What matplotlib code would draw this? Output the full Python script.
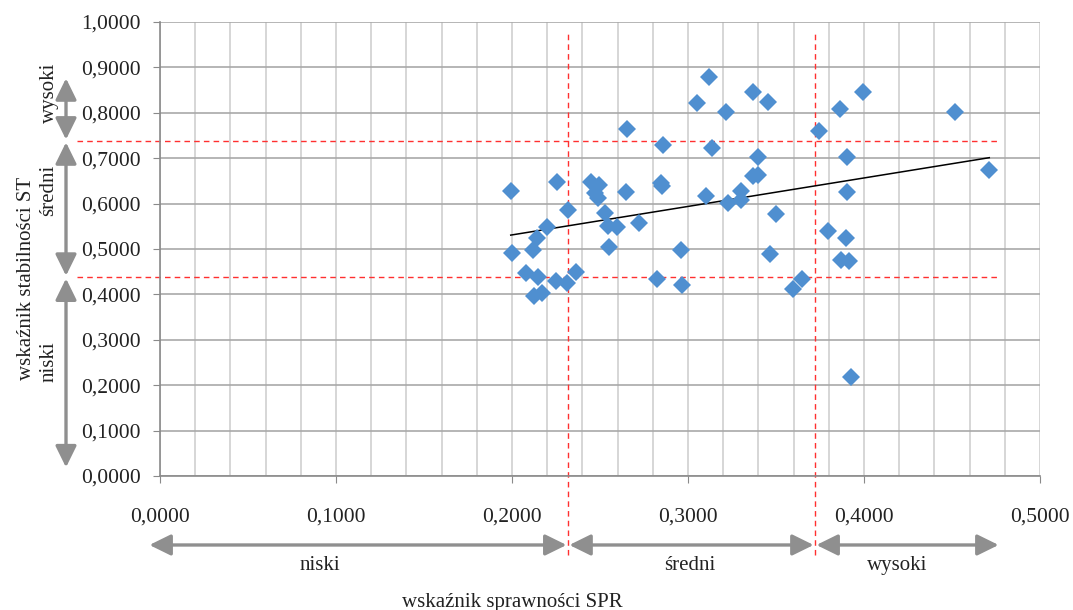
import matplotlib.pyplot as plt
import numpy as np
from matplotlib.ticker import MultipleLocator, FuncFormatter

plt.rcParams['font.family'] = ['Liberation Serif', 'DejaVu Serif']

# wskaźnik sprawności SPR (x) i wskaźnik stabilności ST (y)
spr = [0.1993, 0.1998, 0.2078, 0.2121, 0.2140, 0.2149, 0.2127, 0.2169, 0.2197, 0.2250,
       0.2257, 0.2311, 0.2320, 0.2362, 0.2447, 0.2496, 0.2472, 0.2490, 0.2528, 0.2547,
       0.2595, 0.2553, 0.2648, 0.2652, 0.2723, 0.2845, 0.2851, 0.2856, 0.2826, 0.2959,
       0.2964, 0.3049, 0.3121, 0.3102, 0.3135, 0.3216, 0.3226, 0.3304, 0.3299, 0.3368,
       0.3369, 0.3400, 0.3400, 0.3453, 0.3466, 0.3500, 0.3598, 0.3649, 0.3746, 0.3794,
       0.3864, 0.3869, 0.3896, 0.3902, 0.3905, 0.3915, 0.3926, 0.3996, 0.4517, 0.4712]
st = [0.6284, 0.4919, 0.4478, 0.4978, 0.5236, 0.4390, 0.3965, 0.4024, 0.5478, 0.4302,
      0.6476, 0.4244, 0.5859, 0.4500, 0.6482, 0.6403, 0.6227, 0.6117, 0.5786, 0.5507,
      0.5478, 0.5037, 0.6256, 0.7643, 0.5579, 0.6460, 0.6388, 0.7291, 0.4346, 0.4978,
      0.4207, 0.8209, 0.8782, 0.6167, 0.7218, 0.8011, 0.6007, 0.6271, 0.6090, 0.8465,
      0.6608, 0.6630, 0.7033, 0.8231, 0.4883, 0.5771, 0.4119, 0.4339, 0.7606, 0.5403,
      0.8077, 0.4758, 0.5236, 0.6262, 0.7020, 0.4736, 0.2174, 0.8465, 0.8018, 0.6740]

# granice przedziałów
spr_bounds = [0.2318, 0.3722]
st_bounds = [0.438, 0.738]
band_labels = ['niski', 'średni', 'wysoki']

blue = '#4f8fd0'
arrow_col = '#8f8f8f'
txt = '#222222'

fig = plt.figure(figsize=(10.73, 6.10), dpi=100)
ax = fig.add_axes([0.1491, 0.2197, 0.8201, 0.7442])

ax.set_xlim(0, 0.5)
ax.set_ylim(0, 1.0)
ax.xaxis.set_major_locator(MultipleLocator(0.1))
ax.xaxis.set_minor_locator(MultipleLocator(0.02))
ax.yaxis.set_major_locator(MultipleLocator(0.1))
fmt = FuncFormatter(lambda v, p: ('%.4f' % v).replace('.', ','))
ax.xaxis.set_major_formatter(fmt)
ax.yaxis.set_major_formatter(fmt)

ax.grid(which='minor', axis='x', color='#d6d6d6', lw=1.4)
ax.grid(which='major', axis='x', color='#d6d6d6', lw=1.4)
ax.grid(which='major', axis='y', color='#a9a9a9', lw=1.2)
ax.set_axisbelow(True)
for s in ['top', 'right']:
    ax.spines[s].set_visible(False)
for s in ['left', 'bottom']:
    ax.spines[s].set_color('#8a8a8a')
    ax.spines[s].set_linewidth(1.2)
ax.tick_params(which='minor', length=0)
ax.tick_params(which='major', color='#8a8a8a', length=5, labelsize=15.5, colors=txt)
ax.tick_params(axis='x', pad=18)
ax.tick_params(axis='y', pad=9)

# punkty
ax.plot(spr, st, 'D', color=blue, markersize=9, markeredgewidth=0, zorder=4)

# linia trendu
a, b = np.polyfit(spr, st, 1)
xs = np.array([min(spr), max(spr)])
ax.plot(xs, a * xs + b, color='black', lw=1.1, zorder=3)

# linie podziału
for xv in spr_bounds:
    ax.plot([xv, xv], [-0.174, 0.978], color='#ff3030', lw=1, ls=(0, (4, 3)),
            clip_on=False, zorder=2)
for yv in st_bounds:
    ax.plot([-0.047, 0.477], [yv, yv], color='#ff3030', lw=1, ls=(0, (4, 3)),
            clip_on=False, zorder=2)

def darrow(p0, p1):
    ax.annotate('', xy=p1, xytext=p0, xycoords='data', annotation_clip=False,
                arrowprops=dict(arrowstyle='<|-|>,head_length=0.65,head_width=0.32',
                                color=arrow_col, lw=2.4, mutation_scale=20,
                                shrinkA=0, shrinkB=0))

# strzałki osi X
ay = -0.152
x_edges = [-0.0068, spr_bounds[0], spr_bounds[1], 0.4773]
for i in range(3):
    darrow((x_edges[i] + 0.0008, ay), (x_edges[i + 1] - 0.0008, ay))
x_lab = [0.0909, 0.301, 0.4188]
for lab, xv in zip(band_labels, x_lab):
    ax.text(xv, -0.198, lab, ha='center', va='center', fontsize=15, color=txt,
            clip_on=False)

# strzałki osi Y
axx = -0.0534
y_edges = [0.016, st_bounds[0], st_bounds[1], 0.879]
for i in range(3):
    darrow((axx, y_edges[i] + 0.003), (axx, y_edges[i + 1] - 0.003))
y_lab = [0.251, 0.63, 0.8436]
for lab, yv in zip(band_labels, y_lab):
    ax.text(-0.0630, yv, lab, ha='center', va='center', rotation=90, fontsize=15,
            color=txt, clip_on=False)

fig.text(0.0243, 0.544, 'wskaźnik stabilności ST', rotation=90, ha='center', va='center',
         fontsize=15, color=txt)
fig.text(0.477, 0.013, 'wskaźnik sprawności SPR', ha='center', va='center',
         fontsize=15, color=txt)

fig.savefig('out.png', dpi=100)
